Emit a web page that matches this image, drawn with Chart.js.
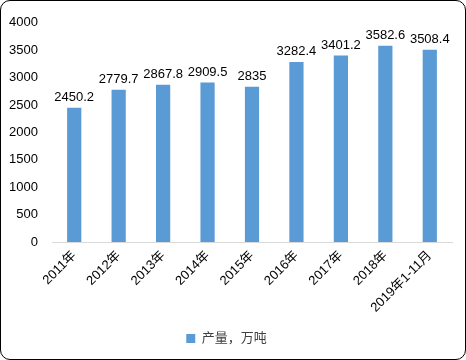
<!DOCTYPE html>
<html><head><meta charset="utf-8">
<script src="https://cdn.jsdelivr.net/npm/chart.js@4/dist/chart.umd.min.js"></script>
<style>
html,body{margin:0;padding:0;background:#fff;}
#wrap{position:absolute;left:0;top:0;width:464px;height:358px;border:1px solid #000;border-radius:10px;overflow:hidden;background:#fff;}
canvas{display:block;}
</style></head>
<body>
<div id="wrap"><canvas id="c" width="464" height="358"></canvas></div>
<script>
const categories = ["2011年","2012年","2013年","2014年","2015年","2016年","2017年","2018年","2019年1-11月"];
const output = [2450.2, 2779.7, 2867.8, 2909.5, 2835, 3282.4, 3401.2, 3582.6, 3508.4];
const outputLabels = ["2450.2","2779.7","2867.8","2909.5","2835","3282.4","3401.2","3582.6","3508.4"];
const seriesName = "产量，万吨";
const yMin = 0, yMax = 4000, yStep = 500;

const FONT = "'Liberation Sans', 'Noto Sans CJK SC', sans-serif";

const valueLabels = {
  id: 'valueLabels',
  afterDatasetsDraw(chart) {
    const ctx = chart.ctx;
    const meta = chart.getDatasetMeta(0);
    ctx.save();
    ctx.font = "13px " + FONT;
    ctx.fillStyle = "#000";
    ctx.textAlign = "center";
    ctx.textBaseline = "bottom";
    meta.data.forEach((bar, i) => {
      ctx.fillText(outputLabels[i], bar.x, bar.y - 4);
    });
    ctx.restore();
  }
};

new Chart(document.getElementById('c'), {
  type: 'bar',
  data: {
    labels: categories,
    datasets: [{
      label: seriesName,
      data: output,
      backgroundColor: '#5B9BD5',
      barPercentage: 0.32,
      categoryPercentage: 1.0
    }]
  },
  options: {
    responsive: false,
    animation: false,
    layout: { padding: { top: 15, right: 13, left: 0, bottom: 4 } },
    plugins: {
      legend: {
        position: 'bottom',
        labels: { boxWidth: 9, boxHeight: 9, color: '#404040', font: { family: FONT, size: 13 }, padding: 10 }
      },
      tooltip: { enabled: false }
    },
    scales: {
      x: {
        grid: { display: false, drawTicks: false },
        border: { color: '#D9D9D9', width: 1 },
        ticks: { minRotation: 45, maxRotation: 45, color: '#000', font: { family: FONT, size: 13 }, padding: 6, autoSkip: false },
        afterFit(s) { s.height = 80; }
      },
      y: {
        min: yMin, max: yMax,
        grid: { display: false, drawTicks: false },
        border: { display: false },
        ticks: { stepSize: yStep, color: '#000', font: { family: FONT, size: 13 }, padding: 14, callback: v => String(v) },
        afterFit(s) { s.width = 51; }
      }
    }
  },
  plugins: [valueLabels]
});
</script>
</body></html>
